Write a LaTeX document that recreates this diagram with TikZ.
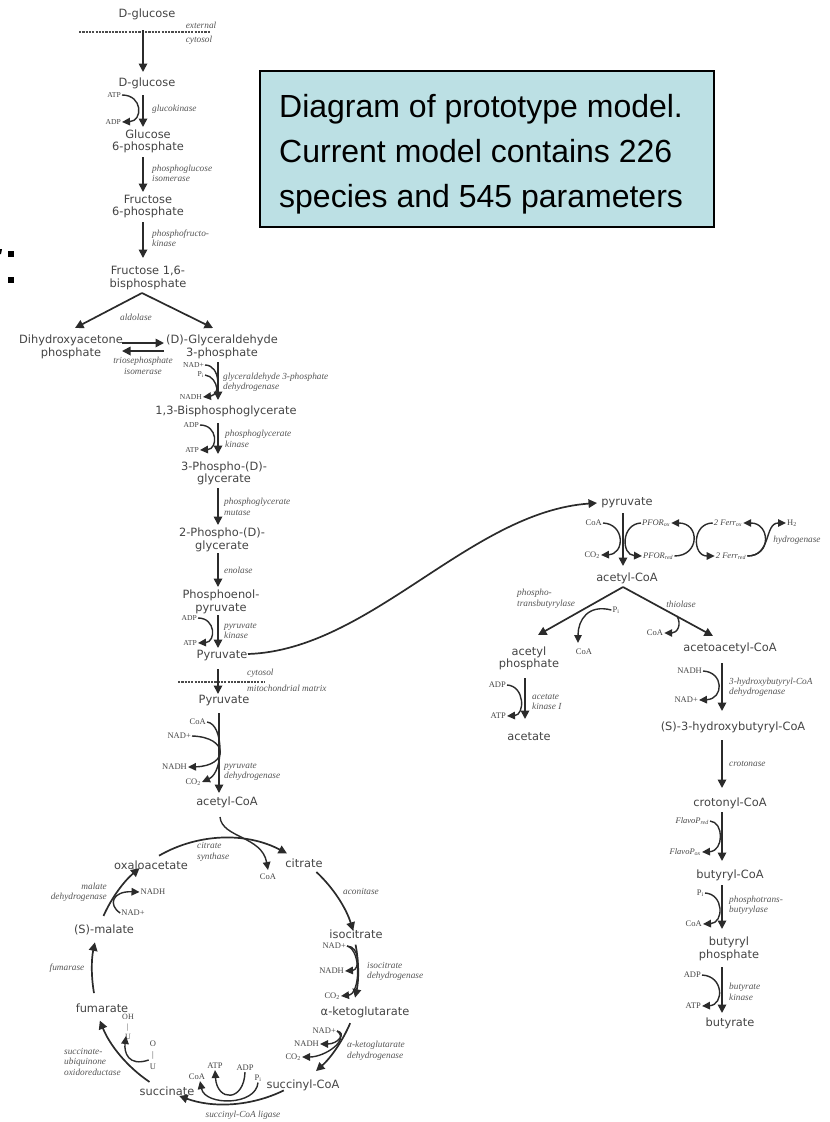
\documentclass[tikz,border=0pt]{standalone}
\usepackage{fontspec}
\usetikzlibrary{arrows.meta,calc}
\newfontfamily\spfont{DejaVu Sans}
\newfontfamily\enfont{Liberation Serif}
\newfontfamily\notefont{Liberation Sans}
\definecolor{ink}{HTML}{2B2B2B}
\definecolor{sptext}{HTML}{444444}
\definecolor{entext}{HTML}{555555}
\definecolor{notebg}{HTML}{BCE0E4}
\begin{document}
\begin{tikzpicture}[x=1pt,y=-1pt,
  sp/.style={font=\spfont\fontsize{11.4}{12.6}\selectfont, text=sptext, inner sep=0pt, align=center},
  en/.style={font=\enfont\itshape\fontsize{9.3}{10.5}\selectfont, text=entext, inner sep=0pt, align=left},
  cfa/.style={font=\enfont\fontsize{7.6}{8.5}\selectfont, text=sptext, inner sep=1pt},
  cfb/.style={font=\enfont\fontsize{8.5}{9}\selectfont, text=sptext, inner sep=1pt},
  cfi/.style={font=\enfont\itshape\fontsize{8.5}{9}\selectfont, text=sptext, inner sep=1pt},
  rx/.style={draw=ink, line width=1.7pt, -{Triangle[length=8.5pt,width=8.5pt]}},
  cx/.style={draw=ink, line width=1.4pt, -{Triangle[length=8pt,width=7.5pt]}},
  cxn/.style={draw=ink, line width=1.4pt},
  memb/.style={draw=ink!85, line width=1.4pt, dash pattern=on 2.2pt off 1.1pt},
  notebox/.style={draw=black, line width=1.2pt, fill=notebg, inner sep=0pt},
  notetext/.style={font=\notefont\fontsize{32}{45}\selectfont, text=black, inner sep=0pt, align=left}
]
\useasboundingbox (0,0) rectangle (830,1122);

% ---------- note box ----------
\node[notebox, minimum width=454pt, minimum height=156pt] (note) at (487,149) {};
\node[notetext, anchor=west] (notetxt) at (279,154)
  {Diagram of prototype model.\\Current model contains 226\\species and 545 parameters};

% colon at the left edge
\fill[black] (8,251) rectangle (14,257);
\fill[black] (8,277) rectangle (14,283);
\fill[black] (0,249) -- (2,249) -- (1,254) -- (0,254) -- cycle;

% ---------- glycolysis ----------
\node[sp] (glcE) at (147,14) {D-glucose};
\node[sp] (glcC) at (147,83) {D-glucose};
\node[sp] (g6p) at (148,141.5) {Glucose\\6-phosphate};
\node[sp] (f6p) at (148,206.5) {Fructose\\6-phosphate};
\node[sp] (fbp) at (148,278) {Fructose 1,6-\\bisphosphate};
\node[sp] (dhap) at (71,347) {Dihydroxyacetone\\phosphate};
\node[sp] (gap) at (222,347) {(D)-Glyceraldehyde\\3-phosphate};
\node[sp] (bpg) at (226,411.5) {1,3-Bisphosphoglycerate};
\node[sp] (pg3) at (224,473.5) {3-Phospho-(D)-\\glycerate};
\node[sp] (pg2) at (222,540) {2-Phospho-(D)-\\glycerate};
\node[sp] (pep) at (221,602) {Phosphoenol-\\pyruvate};
\node[sp] (pyrA) at (222,656) {Pyruvate};
\node[sp] (pyrB) at (224,701) {Pyruvate};
\node[sp] (acoa) at (227,802) {acetyl-CoA};

\draw[memb] (79,32) -- (210,32);
\node[en] (extl) at (201,25) {external};
\node[en] (cytl) at (199,40) {cytosol};

\draw[rx] ($(glcE)+(-4,16)$) -- ($(glcC)+(-4,-11)$);
\draw[rx] ($(glcC)+(-4,12)$) -- ($(g6p)+(-5,-14.5)$);
\draw[rx] ($(g6p)+(-5,15.5)$) -- ($(f6p)+(-5,-14.5)$);
\draw[rx] ($(f6p)+(-5,15.5)$) -- ($(fbp)+(-5,-20)$);
\draw[rx] ($(fbp)+(-6,15)$) -- ($(dhap)+(4,-19)$);
\draw[rx] ($(fbp)+(-6,15)$) -- ($(gap)+(-9,-19)$);
\draw[rx] ($(dhap)+(51,-4)$) -- ($(gap)+(-58,-4)$);
\draw[rx] ($(gap)+(-58,4)$) -- ($(dhap)+(51,4)$);
\draw[rx] ($(gap)+(-4,15)$) -- ($(bpg)+(-8,-11.5)$);
\draw[rx] ($(bpg)+(-8,11.5)$) -- ($(pg3)+(-6,-19.5)$);
\draw[rx] ($(pg3)+(-6,14.5)$) -- ($(pg2)+(-4,-15)$);
\draw[rx] ($(pg2)+(-4,13)$) -- ($(pep)+(-3,-15)$);
\draw[rx] ($(pep)+(-3,13)$) -- ($(pyrA)+(-4,-8)$);
\draw[memb] (178,682) -- (265,682);
\draw[rx] ($(pyrA)+(-4,13)$) -- ($(pyrB)+(-6,-7)$);
\draw[rx] ($(pyrB)+(-5,12)$) -- ($(acoa)+(-8,-9)$);

% enzymes of glycolysis
\node[en, anchor=west] (glk) at (152,109) {glucokinase};
\node[en, anchor=west] (pgi) at (152,173.5) {phosphoglucose\\isomerase};
\node[en, anchor=west] (pfk) at (152,238.5) {phosphofructo-\\kinase};
\node[en] (ald) at (136,317) {aldolase};
\node[en, align=center] (tpi) at (143,366) {triosephosphate\\isomerase};
\node[en, anchor=west] (gapdh) at (223,382.5) {glyceraldehyde 3-phosphate\\dehydrogenase};
\node[en, anchor=west] (pgk) at (225,439) {phosphoglycerate\\kinase};
\node[en, anchor=west] (pgm) at (224,507) {phosphoglycerate\\mutase};
\node[en, anchor=west] (eno) at (224,570) {enolase};
\node[en, anchor=west] (pk) at (224,631) {pyruvate\\kinase};
\node[en, anchor=west] (cyt2) at (247,673) {cytosol};
\node[en, anchor=west] (mito) at (247,688) {mitochondrial matrix};
\node[en, anchor=west] (pdh) at (224,772) {pyruvate\\dehydrogenase};

% cofactors of glycolysis
\node[cfa, anchor=east] (atp1) at (122,95) {ATP};
\node[cfa, anchor=east] (adp1) at (122,122) {ADP};
\draw[cx] (atp1.east) .. controls (143,95) and (143,121) .. (adp1.east);

\node[cfa, anchor=east] (nad1) at (205,365) {NAD+};
\node[cfa, anchor=east] (pi1) at (205,375) {P\textsubscript{i}};
\node[cfa, anchor=east] (nadh1) at (203,397) {NADH};
\coordinate (gj) at (217,389);
\draw[cx] (nad1.east) .. controls (221,365) and (221,395) .. (nadh1.east);
\draw[cxn] (pi1.east) .. controls (212,376) and (216,382) .. (gj);

\node[cfa, anchor=east] (adp2) at (200,425) {ADP};
\node[cfa, anchor=east] (atp2) at (200,450) {ATP};
\draw[cx] (adp2.east) .. controls (218,425) and (218,449) .. (atp2.east);

\node[cfa, anchor=east] (adp3) at (198,618) {ADP};
\node[cfa, anchor=east] (atp3) at (198,643) {ATP};
\draw[cx] (adp3.east) .. controls (216,618) and (216,642) .. (atp3.east);

% pyruvate dehydrogenase cofactors
\node[cfb, anchor=east] (coaP) at (207,722) {CoA};
\node[cfb, anchor=east] (nadP) at (192,736) {NAD+};
\node[cfb, anchor=east] (nadhP) at (188,767) {NADH};
\node[cfb, anchor=east] (co2P) at (202,782) {CO\textsubscript{2}};
\draw[cx] (coaP.east) .. controls (224,724) and (224,772) .. (co2P.east);
\draw[cx] (nadP.east) .. controls (229,737) and (229,766) .. (nadhP.east);

% ---------- citric acid cycle ----------
\coordinate (tc) at (225,970);
\node[sp] (cit) at (304,863) {citrate};
\node[sp] (icit) at (356,934) {isocitrate};
\node[sp] (akg) at (365,1012) {α-ketoglutarate};
\node[sp] (sucoa) at (303,1085) {succinyl-CoA};
\node[sp] (succ) at (167,1091) {succinate};
\node[sp] (fum) at (102,1008) {fumarate};
\node[sp] (mal) at (104,930) {(S)-malate};
\node[sp] (oaa) at (151,865) {oxaloacetate};

\draw[rx] ($(tc)+(240:132)$) arc[start angle=240, end angle=298, radius=132];
\draw[rx] ($(tc)+(313:134)$) arc[start angle=313, end angle=343, radius=134];
\draw[rx] ($(tc)+(349:133)$) arc[start angle=349, end angle=372, radius=133];
\draw[rx] ($(tc)+(23:136)$) arc[start angle=23, end angle=48, radius=136];
\draw[rx] ($(tc)+(64:134)$) arc[start angle=64, end angle=110, radius=134];
\draw[rx] ($(tc)+(124:135)$) arc[start angle=124, end angle=158, radius=135];
\draw[rx] ($(tc)+(170:133)$) arc[start angle=170, end angle=192, radius=133];
\draw[rx] ($(tc)+(204:133)$) arc[start angle=204, end angle=230, radius=133];

\node[cfb] (coaC) at (268,877) {CoA};
\draw[cx] ($(acoa)+(-7,15)$) .. controls (222,838) and (262,836) .. ($(coaC)+(0,-7)$);

\node[en, anchor=west] (cs) at (197,852) {citrate\\synthase};
\node[en, anchor=west] (aco) at (343,891) {aconitase};
\node[en, anchor=west] (idh) at (367,971.5) {isocitrate\\dehydrogenase};
\node[en, anchor=west] (kgdh) at (347,1051) {α-ketoglutarate\\dehydrogenase};
\node[en] (scl) at (243,1115) {succinyl-CoA ligase};
\node[en, anchor=west] (sdh) at (64,1061.5) {succinate-\\ubiquinone\\oxidoreductase};
\node[en] (fumase) at (67,968) {fumarase};
\node[en, anchor=east, align=right] (mdh) at (107,892.5) {malate\\dehydrogenase};

\node[cfb, anchor=east] (nadI) at (347,946) {NAD+};
\node[cfb, anchor=east] (nadhI) at (345,971) {NADH};
\node[cfb, anchor=east] (co2I) at (341,996) {CO\textsubscript{2}};
\draw[cx] (nadI.east) .. controls (360,946) and (360,970) .. (nadhI.east);
\draw[cx] (nadI.east) .. controls (362,950) and (360,994) .. (co2I.east);

\node[cfb, anchor=east] (nadK) at (337,1031) {NAD+};
\node[cfb, anchor=east] (nadhK) at (320,1044) {NADH};
\node[cfb, anchor=east] (co2K) at (302,1057) {CO\textsubscript{2}};
\draw[cx] (nadK.east) .. controls (347,1033) and (338,1044) .. (nadhK.east);
\draw[cx] (nadK.east) .. controls (350,1040) and (325,1057) .. (co2K.east);

\node[cfb] (atpL) at (215,1066) {ATP};
\node[cfb] (coaL) at (197,1077) {CoA};
\node[cfb] (adpL) at (245,1068) {ADP};
\node[cfb] (piL) at (258,1078) {P\textsubscript{i}};
\draw[cx] (adpL.south) .. controls (244,1102) and (217,1102) .. (atpL.south);
\draw[cx] (piL.south) .. controls (256,1106) and (205,1106) .. ($(coaL.south)+(3,0)$);

\node[cfb, align=center, font=\enfont\fontsize{8}{10}\selectfont] (oqh) at (128,1027) {OH\\|\\U};
\node[cfb, align=center, font=\enfont\fontsize{8.5}{11.5}\selectfont] (oq) at (153,1055) {O\\|\\U};
\draw[cx] ($(oq.west)+(0,5)$) .. controls (128,1067) and (124,1052) .. ($(oqh)+(-2,9)$);

\node[cfb] (nadM) at (133,913) {NAD+};
\node[cfb] (nadhM) at (153,892) {NADH};
\draw[cx] (nadM.west) .. controls (108,905) and (112,891) .. (nadhM.west);

% ---------- butyrate branch ----------
\node[sp] (pyrC) at (627,503) {pyruvate};
\node[sp] (acoaR) at (627,578) {acetyl-CoA};
\node[sp] (acp) at (529,658.5) {acetyl\\phosphate};
\node[sp] (ac) at (529,737) {acetate};
\node[sp] (aacoa) at (730,648) {acetoacetyl-CoA};
\node[sp] (hbcoa) at (733,727) {(S)-3-hydroxybutyryl-CoA};
\node[sp] (crcoa) at (730,803) {crotonyl-CoA};
\node[sp] (bcoa) at (730,875) {butyryl-CoA};
\node[sp] (bp) at (729,949) {butyryl\\phosphate};
\node[sp] (but) at (730,1023) {butyrate};

\draw[rx] ($(pyrA)+(26,-2)$) .. controls (370,650) and (470,512) .. ($(pyrC)+(-30,0)$);

\draw[rx] ($(pyrC)+(-4,10)$) -- ($(acoaR)+(-4,-12)$);
\draw[rx] ($(acoaR)+(-4,9)$) -- ($(acp)+(9,-23.5)$);
\draw[rx] ($(acoaR)+(-4,9)$) -- ($(aacoa)+(-17,-12)$);
\draw[rx] ($(acp)+(-4,19.5)$) -- ($(ac)+(-4,-18)$);
\draw[rx] ($(aacoa)+(-8,15)$) -- ($(hbcoa)+(-11,-16)$);
\draw[rx] ($(hbcoa)+(-11,13)$) -- ($(crcoa)+(-8,-15)$);
\draw[rx] ($(crcoa)+(-8,9)$) -- ($(bcoa)+(-8,-14)$);
\draw[rx] ($(bcoa)+(-8,10)$) -- ($(bp)+(-7,-20)$);
\draw[rx] ($(bp)+(-7,18)$) -- ($(but)+(-8,-10)$);

% pyruvate:ferredoxin oxidoreductase and hydrogenase
\node[cfb, anchor=east] (coaR) at (603,523) {CoA};
\node[cfb, anchor=east] (co2R) at (601,555) {CO\textsubscript{2}};
\node[cfi, anchor=west] (pfox) at (641,523) {PFOR\textsubscript{ox}};
\node[cfi, anchor=west] (pfred) at (642,556) {PFOR\textsubscript{red}};
\node[cfi] (ferox) at (728,523) {2 Ferr\textsubscript{ox}};
\node[cfi] (ferred) at (731,556) {2 Ferr\textsubscript{red}};
\node[cfb, anchor=west] (h2) at (786,523) {H\textsubscript{2}};
\node[en] (hyd) at (797,540) {hydrogenase};
\draw[cx] (coaR.east) .. controls (625,524) and (625,554) .. (co2R.east);
\draw[cx] (pfox.west) .. controls (621,524) and (621,555) .. (pfred.west);
\draw[cx] (pfred.east) .. controls (700,556) and (700,523) .. (pfox.east);
\draw[cx] (ferox.west) .. controls (692,523) and (692,556) .. (ferred.west);
\draw[cx] (ferred.east) .. controls (772,556) and (770,523) .. (ferox.east);
\draw[cx] (ferred.east) .. controls (772,556) and (764,523) .. (h2.west);

% acetyl-CoA branches
\node[en, anchor=west] (ptbA) at (517,599) {phospho-\\transbutyrylase};
\node[en] (thl) at (681,604) {thiolase};
\node[cfb] (piP) at (616,610) {P\textsubscript{i}};
\node[cfb] (coaPt) at (584,652) {CoA};
\draw[cx] (piP.west) .. controls (588,604) and (578,620) .. ($(coaPt)+(-6,-9)$);
\coordinate (thp) at (677,616);
\node[cfb] (coaT) at (655,633) {CoA};
\draw[cx] (thp) .. controls (682,625) and (677,633) .. (coaT.east);

\node[cfb, anchor=east] (adpA) at (507,685) {ADP};
\node[cfb, anchor=east] (atpA) at (507,716) {ATP};
\draw[cx] (adpA.east) .. controls (525,686) and (525,715) .. (atpA.east);
\node[en, anchor=west] (ack) at (532,702) {acetate\\kinase I};

\node[cfb, anchor=east] (nadhH) at (703,671) {NADH};
\node[cfb, anchor=east] (nadH) at (699,700) {NAD+};
\draw[cx] (nadhH.east) .. controls (724,672) and (724,699) .. (nadH.east);
\node[en, anchor=west] (hbd) at (729,687.5) {3-hydroxybutyryl-CoA\\dehydrogenase};
\node[en, anchor=west] (crt) at (729,764) {crotonase};

\node[cfi, anchor=east] (fvr) at (710,821) {FlavoP\textsubscript{red}};
\node[cfi, anchor=east] (fvo) at (702,852) {FlavoP\textsubscript{ox}};
\draw[cx] (fvr.east) .. controls (724,822) and (724,851) .. (fvo.east);

\node[cfb, anchor=east] (piB) at (705,893) {P\textsubscript{i}};
\node[cfb, anchor=east] (coaB) at (703,924) {CoA};
\draw[cx] (piB.east) .. controls (724,894) and (724,923) .. (coaB.east);
\node[en, anchor=west] (ptbB) at (729,905.5) {phosphotrans-\\butyrylase};

\node[cfb, anchor=east] (adpB) at (702,975) {ADP};
\node[cfb, anchor=east] (atpB) at (702,1006) {ATP};
\draw[cx] (adpB.east) .. controls (724,976) and (724,1005) .. (atpB.east);
\node[en, anchor=west] (buk) at (729,992) {butyrate\\kinase};
\end{tikzpicture}
\end{document}
